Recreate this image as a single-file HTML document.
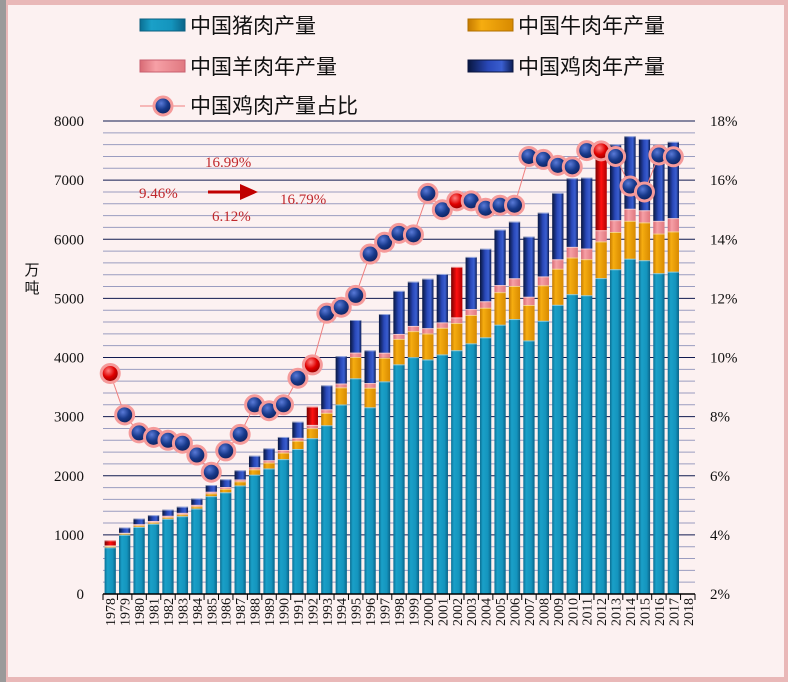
<!DOCTYPE html>
<html><head><meta charset="utf-8"><style>
html,body{margin:0;padding:0;background:#fff;}
#wrap{position:relative;width:788px;height:682px;background:#9a9a9a;overflow:hidden;}
svg{position:absolute;left:0;top:0;}
</style></head><body>
<div id="wrap">
<svg id="chart" width="788" height="682" xmlns="http://www.w3.org/2000/svg">
<defs>
<linearGradient id="gPork" x1="0" x2="1" y1="0" y2="0"><stop offset="0" stop-color="#0a6f93"/><stop offset="0.25" stop-color="#1aa0c8"/><stop offset="0.7" stop-color="#1494bd"/><stop offset="1" stop-color="#0a6488"/></linearGradient>
<linearGradient id="gBeef" x1="0" x2="1" y1="0" y2="0"><stop offset="0" stop-color="#c57a00"/><stop offset="0.3" stop-color="#f6ad10"/><stop offset="1" stop-color="#d88a00"/></linearGradient>
<linearGradient id="gMut" x1="0" x2="1" y1="0" y2="0"><stop offset="0" stop-color="#d86a74"/><stop offset="0.35" stop-color="#f6a0a6"/><stop offset="1" stop-color="#e07880"/></linearGradient>
<linearGradient id="gChk" x1="0" x2="1" y1="0" y2="0"><stop offset="0" stop-color="#08163f"/><stop offset="0.45" stop-color="#2948b8"/><stop offset="0.75" stop-color="#3a5ed0"/><stop offset="1" stop-color="#0c1d55"/></linearGradient>
<linearGradient id="gRed" x1="0" x2="1" y1="0" y2="0"><stop offset="0" stop-color="#7a0000"/><stop offset="0.5" stop-color="#ff1010"/><stop offset="1" stop-color="#b00000"/></linearGradient>
<radialGradient id="gDot" cx="0.4" cy="0.35" r="0.7"><stop offset="0" stop-color="#5a7ad8"/><stop offset="0.5" stop-color="#183a8c"/><stop offset="1" stop-color="#0a1a50"/></radialGradient>
<radialGradient id="gDotR" cx="0.4" cy="0.35" r="0.7"><stop offset="0" stop-color="#ff8080"/><stop offset="0.5" stop-color="#e00000"/><stop offset="1" stop-color="#800000"/></radialGradient>
</defs>
<rect x="6" y="0" width="782" height="682" fill="#e9b8b8"/>
<rect x="8" y="5" width="776" height="672" fill="#fcf1f1"/>
<g id="grid"></g>
<g id="bars"></g>
<g id="line"></g>
<g id="axes"></g>
<g font-family="'Liberation Sans','Noto Sans CJK SC',sans-serif" font-size="21" fill="#111">
  <g><rect x="140" y="19" width="45" height="12" fill="url(#gPork)" stroke="#0a5f80"/><text x="190" y="33">中国猪肉产量</text></g>
  <g><rect x="468" y="19" width="45" height="12" fill="url(#gBeef)" stroke="#b07000"/><text x="518" y="33">中国牛肉年产量</text></g>
  <g><rect x="140" y="60" width="45" height="12" fill="url(#gMut)" stroke="#c86070"/><text x="190" y="74">中国羊肉年产量</text></g>
  <g><rect x="468" y="60" width="45" height="12" fill="url(#gChk)" stroke="#0a1540"/><text x="518" y="74">中国鸡肉年产量</text></g>
  <g><line x1="140" x2="185" y1="106" y2="106" stroke="#f08080" stroke-width="1"/><circle cx="163" cy="106" r="9" fill="url(#gDot)" stroke="#f59a9a" stroke-width="3"/><text x="190" y="113">中国鸡肉产量占比</text></g>
</g>
<g font-family="'Liberation Serif',serif" font-size="15" fill="#c0282c">
  <text x="205" y="167">16.99%</text>
  <text x="139" y="198">9.46%</text>
  <text x="280" y="204">16.79%</text>
  <text x="212" y="221">6.12%</text>
  <g><line x1="208" y1="192" x2="244" y2="192" stroke="#c00000" stroke-width="3"/><polygon points="240,184 258,192 240,200" fill="#c00000"/></g>
</g>
</svg>
</div>
<script>
const years = [];
for (let y = 1978; y <= 2018; y++) years.push(String(y));
const pork = [789,1002,1134,1188,1272,1316,1445,1655,1720,1835,2018,2123,2281,2452,2635,2854,3205,3648,3158,3596,3884,4006,3966,4052,4123,4239,4341,4555,4650,4288,4621,4891,5071,5053,5343,5493,5671,5645,5426,5452,null];
const beef = [24,23,27,25,27,32,37,47,59,70,90,100,110,140,170,210,290,360,330,400,430,440,440,450,460,480,500,550,560,600,600,610,620,610,620,630,640,640,670,680,null];
const mutton = [8,10,20,22,24,25,26,28,30,32,36,40,45,50,55,60,65,75,80,85,85,88,90,92,95,100,110,120,130,140,150,160,180,180,190,200,205,205,215,225,null];
const chicken = [86,90,96,98,104,104,108,112,131,155,195,200,220,272,308,405,463,551,553,654,728,749,836,819,854,882,888,938,958,1017,1079,1122,1160,1199,1296,1281,1227,1206,1282,1291,null];
const share = [9.46,8.06,7.45,7.3,7.2,7.1,6.7,6.12,6.84,7.4,8.4,8.2,8.4,9.3,9.75,11.5,11.7,12.1,13.5,13.9,14.2,14.15,15.55,15.0,15.3,15.3,15.05,15.15,15.15,16.8,16.7,16.5,16.45,17.0,16.99,16.8,15.8,15.6,16.85,16.79,null];
const highlight = ["1978","1992","2002","2012"];
const leftTicks = [0,1000,2000,3000,4000,5000,6000,7000,8000];
const rightTicks = ["2%","4%","6%","8%","10%","12%","14%","16%","18%"];

const NS = "http://www.w3.org/2000/svg";
const X0 = 103, X1 = 695, Y0 = 594, Y1 = 121;
const band = (X1 - X0) / years.length;
const yL = v => Y0 - (v / 8000) * (Y0 - Y1);
const yR = p => Y0 - ((p - 2) / 16) * (Y0 - Y1);
const xC = i => X0 + band * (i + 0.5);
function mk(tag, attrs, parent) {
  const e = document.createElementNS(NS, tag);
  for (const k in attrs) e.setAttribute(k, attrs[k]);
  parent.appendChild(e);
  return e;
}
const grid = document.getElementById('grid');
for (let v = 0; v <= 8000; v += 200) {
  const major = v % 1000 === 0;
  const l = mk('line', {x1: X0, x2: X1, y1: yL(v), y2: yL(v), stroke: major ? '#101a50' : '#9a9cc0', 'stroke-width': 1}, grid);
  
  
}
const bars = document.getElementById('bars');
const bw = band * 0.78;
years.forEach((yr, i) => {
  if (pork[i] == null) return;
  const g = mk('g', {}, bars);
  
  
  const segs = [[pork[i], 'url(#gPork)', 'pork'], [beef[i], 'url(#gBeef)', 'beef'], [mutton[i], 'url(#gMut)', 'mutton'], [chicken[i], highlight.includes(yr) ? 'url(#gRed)' : 'url(#gChk)', 'chicken']];
  let base = 0;
  segs.forEach(s => {
    const top = base + s[0];
    const r = mk('rect', {x: xC(i) - bw / 2, y: yL(top), width: bw, height: yL(base) - yL(top), fill: s[1]}, g);
    
    
    mk('line', {x1: xC(i) - bw / 2, x2: xC(i) + bw / 2, y1: yL(top) + 0.5, y2: yL(top) + 0.5, stroke: 'rgba(255,255,255,0.5)', 'stroke-width': 1}, g);
    base = top;
  });
});
const lineG = document.getElementById('line');
const pts = [];
share.forEach((p, i) => { if (p != null) pts.push([xC(i), yR(p)]); });
const pl = mk('polyline', {points: pts.map(p => p.join(',')).join(' '), fill: 'none', stroke: '#f08080', 'stroke-width': 1}, lineG);


share.forEach((p, i) => {
  if (p == null) return;
  const c = mk('circle', {cx: xC(i), cy: yR(p), r: 9, fill: highlight.includes(years[i]) ? 'url(#gDotR)' : 'url(#gDot)', stroke: '#f59a9a', 'stroke-width': 3}, lineG);
  
  
});
const axes = document.getElementById('axes');
const xa = mk('line', {x1: X0, x2: X1, y1: Y0, y2: Y0, stroke: '#000', 'stroke-width': 1.5}, axes);


for (let i = 0; i <= years.length; i++) {
  mk('line', {x1: X0 + band * i, x2: X0 + band * i, y1: Y0, y2: Y0 + 6, stroke: '#000'}, axes);
}
years.forEach((yr, i) => {
  const t = mk('text', {x: 0, y: 0, transform: `translate(${xC(i) + 5},598) rotate(-90)`, 'text-anchor': 'end', 'font-family': "'Liberation Serif',serif", 'font-size': 14, fill: '#111'}, axes);
  t.textContent = yr;
  
  
});
leftTicks.forEach(v => {
  const t = mk('text', {x: 84, y: yL(v) + 5, 'text-anchor': 'end', 'font-family': "'Liberation Serif',serif", 'font-size': 15, fill: '#111'}, axes);
  t.textContent = String(v);
  
  
});
rightTicks.forEach((lab, i) => {
  const t = mk('text', {x: 710, y: yL(i * 1000) + 5, 'font-family': "'Liberation Serif',serif", 'font-size': 15, fill: '#111'}, axes);
  t.textContent = lab;
  
  
});
const yt = mk('text', {x: 32, y: 275, 'text-anchor': 'middle', 'font-family': "'Liberation Sans','Noto Sans CJK SC',sans-serif", 'font-size': 15, fill: '#111'}, axes);
yt.textContent = '万';


const yt2 = mk('text', {x: 32, y: 293, 'text-anchor': 'middle', 'font-family': "'Liberation Sans','Noto Sans CJK SC',sans-serif", 'font-size': 15, fill: '#111'}, axes);
yt2.textContent = '吨';


</script>
</body></html>
